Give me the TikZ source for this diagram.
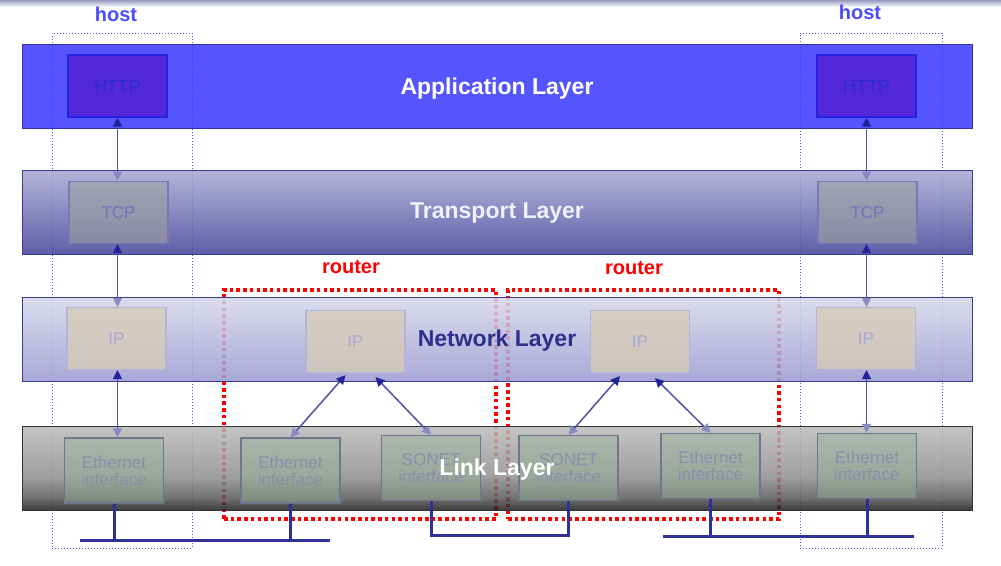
\documentclass[tikz,border=0pt]{standalone}
\usepackage{fontspec}
\setmainfont{Liberation Sans}
\usetikzlibrary{arrows.meta, positioning}
\definecolor{cStrip}{HTML}{9A9AC0}
\definecolor{cAppl}{HTML}{3737FF}
\definecolor{cApplLine}{HTML}{3434A8}
\definecolor{cTransTop}{HTML}{A7A7D3}
\definecolor{cTransBot}{HTML}{424299}
\definecolor{cNetTop}{HTML}{D6D6E9}
\definecolor{cNetBot}{HTML}{9999D1}
\definecolor{cLayerLine}{HTML}{3A3A90}
\definecolor{cNavy}{HTML}{2E2E8E}
\definecolor{cHost}{HTML}{4B4BFF}
\definecolor{cRouter}{HTML}{FF0000}
\definecolor{cHttp}{HTML}{5228D8}
\definecolor{cHttpLine}{HTML}{2222E0}
\definecolor{cHttpText}{HTML}{2C2CD2}
\definecolor{cTcp}{HTML}{A0A0A0}
\definecolor{cTcpLine}{HTML}{7878B4}
\definecolor{cTcpText}{HTML}{7474BC}
\definecolor{cIp}{HTML}{D8CCB4}
\definecolor{cIpLine}{HTML}{B4B4D8}
\definecolor{cIpText}{HTML}{A8A8D4}
\definecolor{cIface}{HTML}{98B098}
\definecolor{cIfaceLine}{HTML}{6C7890}
\definecolor{cIfaceText}{HTML}{8A8EAA}
\definecolor{cArrow}{HTML}{5252A2}
\definecolor{cTipDark}{HTML}{22229A}
\definecolor{cTipFade}{HTML}{8A8AC2}
\definecolor{cWire}{HTML}{30309A}
% link layer: grey that darkens near its lower edge
\pgfdeclareverticalshading{linkshade}{100bp}{color(0bp)=(black!90); color(25bp)=(black!90); color(32bp)=(black!66); color(45bp)=(black!44); color(75bp)=(black!27); color(100bp)=(black!27)}
\tikzset{
	layer/.style    ={rectangle, minimum width=950pt, minimum height=84pt, inner sep=0pt, fill opacity=0.85, line width=1pt},
	layername/.style={font=\fontsize{23}{26}\selectfont\bfseries, anchor=base},
	proto/.style    ={rectangle, minimum width=99pt, minimum height=62pt, inner sep=0pt, align=center, font=\fontsize{17}{17}\selectfont, line width=1.2pt, text opacity=1},
	httpbox/.style  ={proto, fill=cHttp, draw=cHttpLine, text=cHttpText, font=\fontsize{18}{18}\selectfont},
	tcpbox/.style   ={proto, fill=cTcp, fill opacity=0.6, draw=cTcpLine, text=cTcpText},
	ipbox/.style    ={proto, fill=cIp, fill opacity=0.75, draw=cIpLine, text=cIpText},
	ifacebox/.style ={proto, minimum height=65pt, fill=cIface, fill opacity=0.45, draw=cIfaceLine, text=cIfaceText},
	hostframe/.style={rectangle, draw=cHost, line width=1pt, dotted, minimum width=140pt, minimum height=515pt, inner sep=0pt},
	routerframe/.style={rectangle, draw=cRouter, line width=3.5pt, dash pattern=on 3.5pt off 3.2pt, minimum height=229pt, inner sep=0pt},
	tag/.style      ={font=\fontsize{20}{22}\selectfont\bfseries},
	updown/.style   ={{Triangle[length=9pt, width=9pt, color=cTipFade]}-{Triangle[length=9pt, width=9pt, color=cTipDark]}, draw=cArrow, line width=1.5pt},
	wire/.style     ={draw=cWire, line width=3pt},
}
\begin{document}
\begin{tikzpicture}[x=1pt, y=-1pt]
	\useasboundingbox (0,0) rectangle (1001,565);
	\shade[top color=cStrip, bottom color=white] (0,0) rectangle (1001,7);
	% frames behind the layers
	\node[hostframe] (hostL) at (122,290.5) {};
	\node[hostframe, minimum width=142pt] (hostR) at (871,290.5) {};
	\node[routerframe, minimum width=272pt] (routerA) at (360,404.5) {};
	\node[routerframe, minimum width=271pt] (routerB) at (643.5,404.5) {};
	% layers
	\node[layer, fill=cAppl, draw=cApplLine] (app) at (497,86) {};
	\node[layer, top color=cTransTop, bottom color=cTransBot, draw=cLayerLine] (trans) at (497,212) {};
	\node[layer, top color=cNetTop, bottom color=cNetBot, draw=cLayerLine] (net) at (497,339) {};
	\node[layer, shading=linkshade, draw=black!80] (link) at (497,468) {};
	% host protocol boxes
	\node[httpbox] (httpL) at (117.5,86) {HTTP};
	\node[tcpbox] (tcpL) at (118.5,212.5) {TCP};
	\node[ipbox] (ipL) at (116.5,338.5) {IP};
	\node[ifacebox] (ethL) at (114,470.5) {Ethernet\\interface};
	\node[httpbox] (httpR) at (866.5,86) {HTTP};
	\node[tcpbox] (tcpR) at (867.5,212.5) {TCP};
	\node[ipbox] (ipR) at (866,338.5) {IP};
	\node[ifacebox] (ethR) at (867,466) {Ethernet\\interface};
	% router boxes
	\node[ipbox] (ipA) at (355.5,341.5) {IP};
	\node[ifacebox] (ethA) at (290.5,470.5) {Ethernet\\interface};
	\node[ifacebox] (sonA) at (431,468) {SONET\\interface};
	\node[ipbox] (ipB) at (640,341.5) {IP};
	\node[ifacebox] (sonB) at (568.5,468) {SONET\\interface};
	\node[ifacebox] (ethB) at (710.5,466) {Ethernet\\interface};
	% stack arrows
	\draw[updown] (httpL.south |- tcpL.north) -- (httpL.south);
	\draw[updown] (httpL.south |- ipL.north) -- (httpL.south |- tcpL.south);
	\draw[updown] (httpL.south |- ethL.north) -- (httpL.south |- ipL.south);
	\draw[updown] (httpR.south |- tcpR.north) -- (httpR.south);
	\draw[updown] (httpR.south |- ipR.north) -- (httpR.south |- tcpR.south);
	\draw[updown] (httpR.south |- ethR.north) -- (httpR.south |- ipR.south);
	\draw[updown] (ethA.north) -- ([xshift=-10pt, yshift=-2pt]ipA.south);
	\draw[updown] (sonA.north) -- ([xshift=20pt, yshift=-4pt]ipA.south);
	\draw[updown] (sonB.north) -- ([xshift=-20pt, yshift=-3pt]ipB.south);
	\draw[updown] (ethB.north) -- ([xshift=15pt, yshift=-5pt]ipB.south);
	% wires
	\coordinate (busL) at (80,540);
	\coordinate (busLend) at (330,540);
	\coordinate (busM) at (0,535);
	\coordinate (busR) at (663,536);
	\coordinate (busRend) at (914,536);
	\draw[wire] (busL) -- (busLend);
	\draw[wire] (ethL.south) -- (ethL.south |- busL);
	\draw[wire] (ethA.south) -- (ethA.south |- busL);
	\draw[wire] (sonA.south) -- (sonA.south |- busM) -- (sonB.south |- busM) -- (sonB.south);
	\draw[wire] (busR) -- (busRend);
	\draw[wire] (ethB.south) -- (ethB.south |- busR);
	\draw[wire] (ethR.south) -- (ethR.south |- busR);
	% layer names
	\node[layername, text=white] (appname) at (497,94.5) {Application Layer};
	\node[layername, text=white!94!blue] (transname) at (497,218.5) {Transport Layer};
	\node[layername, text=cNavy] (netname) at (497,346.5) {Network Layer};
	\node[layername, text=white] (linkname) at (497,475) {Link Layer};
	% tags
	\node[tag, text=cHost] (hostLtag) at (116,14) {host};
	\node[tag, text=cHost] (hostRtag) at (860,12) {host};
	\node[tag, text=cRouter] (routerAtag) at (351,267) {router};
	\node[tag, text=cRouter] (routerBtag) at (634,268) {router};
\end{tikzpicture}
\end{document}
